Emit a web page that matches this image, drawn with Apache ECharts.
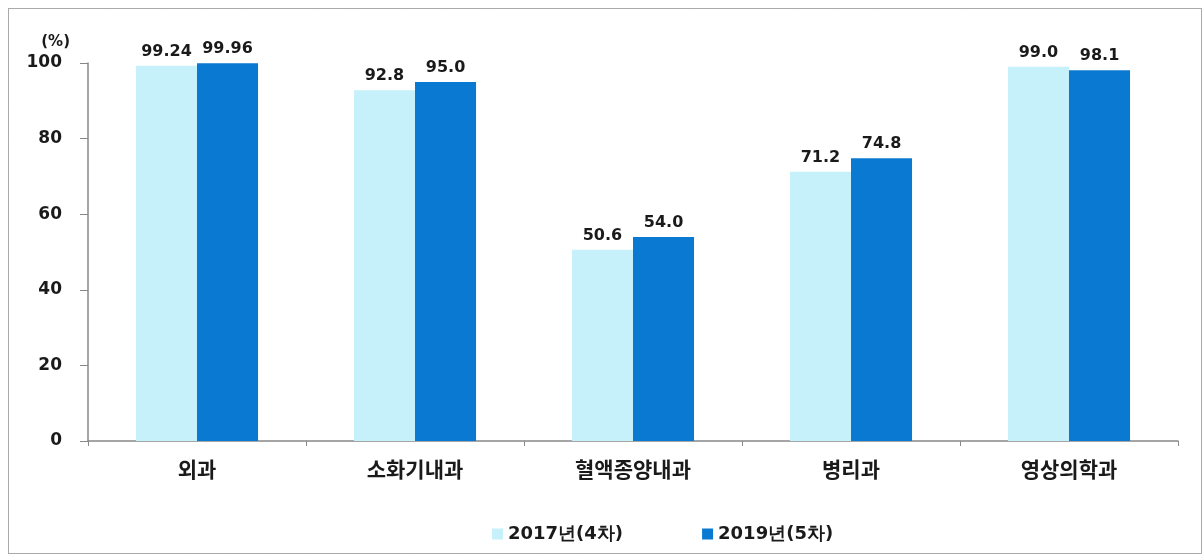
<!DOCTYPE html>
<html><head><meta charset="utf-8">
<script src="https://cdn.jsdelivr.net/npm/echarts@6/dist/echarts.min.js"></script>
<style>html,body{margin:0;padding:0;background:#fff}#c{width:1204px;height:557px}</style>
</head><body><div id="c"></div>
<script>
const categories = ['외과','소화기내과','혈액종양내과','병리과','영상의학과'];
const series2017 = [99.24, 92.8, 50.6, 71.2, 99.0];
const series2019 = [99.96, 95.0, 54.0, 74.8, 98.1];
const labels2017 = ['99.24','92.8','50.6','71.2','99.0'];
const labels2019 = ['99.96','95.0','54.0','74.8','98.1'];
const seriesNames = ['2017년(4차)','2019년(5차)'];
const yTicks = [0,20,40,60,80,100];

const chart = echarts.init(document.getElementById('c'));
const labelStyle = {show:true, position:'top', distance:6, color:'#1a1a1a', fontSize:16, fontWeight:'bold', fontFamily:'DejaVu Sans'};
chart.setOption({
  animation:false,
  graphic:[{type:'rect', shape:{x:8.5,y:8.5,width:1193,height:545}, style:{fill:'none', stroke:'#555', lineWidth:1, lineDash:[1,1]}}],
  grid:{left:88, right:26, top:63, bottom:116},
  legend:{top:520, left:487, itemWidth:11, itemHeight:11, itemGap:79,
    icon:'rect', textStyle:{fontSize:18, fontWeight:'bold', color:'#1a1a1a', fontFamily:'DejaVu Sans'}, data:seriesNames},
  xAxis:{type:'category', data:categories,
    axisLine:{lineStyle:{color:'#888', width:1.5}},
    axisTick:{show:true, inside:false, length:5, lineStyle:{color:'#888'}},
    axisLabel:{margin:18, fontSize:21, fontWeight:'bold', color:'#1a1a1a', fontFamily:'Noto Sans CJK KR'}},
  yAxis:{type:'value', min:yTicks[0], max:yTicks[yTicks.length-1], interval:20,
    name:'(%)', nameLocation:'end', nameGap:13,
    nameTextStyle:{fontSize:15, fontWeight:'bold', color:'#1a1a1a', fontFamily:'DejaVu Sans', align:'right', padding:[0,18,0,0]},
    axisLine:{show:true, lineStyle:{color:'#888', width:1.5}},
    axisTick:{show:true, length:8, lineStyle:{color:'#888'}},
    splitLine:{show:false},
    axisLabel:{margin:26, fontSize:17, fontWeight:'bold', color:'#1a1a1a', fontFamily:'DejaVu Sans'}},
  series:[
    {name:seriesNames[0], type:'bar', data:series2017, barGap:'0%', barCategoryGap:'44%',
     itemStyle:{color:'#C6F0FA'}, label:Object.assign({}, labelStyle, {formatter:p=>labels2017[p.dataIndex]})},
    {name:seriesNames[1], type:'bar', data:series2019,
     itemStyle:{color:'#0A79D1'}, label:Object.assign({}, labelStyle, {formatter:p=>labels2019[p.dataIndex]})}
  ]
});
</script></body></html>
